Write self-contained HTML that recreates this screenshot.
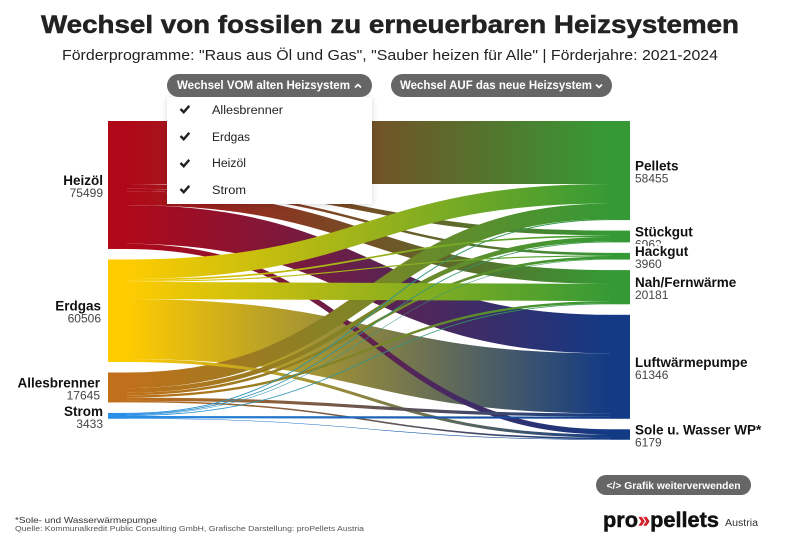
<!DOCTYPE html>
<html lang="de">
<head>
<meta charset="utf-8">
<title>Wechsel von fossilen zu erneuerbaren Heizsystemen</title>
<style>
html,body{margin:0;padding:0;background:#fff;width:800px;height:538px;overflow:hidden}
svg{display:block;font-family:"Liberation Sans",sans-serif}
</style>
</head>
<body>
<svg id="chart" xmlns="http://www.w3.org/2000/svg" width="800" height="538" viewBox="0 0 800 538">
  <defs id="defs"></defs>
  <text x="390" y="33" text-anchor="middle" font-size="25" font-weight="700" fill="#222" stroke="#222" stroke-width="0.5" textLength="698" lengthAdjust="spacingAndGlyphs">Wechsel von fossilen zu erneuerbaren Heizsystemen</text>
  <text x="390" y="60" text-anchor="middle" font-size="15" fill="#222" textLength="656" lengthAdjust="spacingAndGlyphs">Förderprogramme: "Raus aus Öl und Gas", "Sauber heizen für Alle" | Förderjahre: 2021-2024</text>
  <g id="links"></g>
  <g id="nodes"></g>
  <g id="labels"></g>

  <rect x="167" y="97" width="205" height="107" fill="#fff" style="filter:drop-shadow(0 1px 3px rgba(0,0,0,.16))"></rect>
  <g>
    <rect x="167" y="74" width="205" height="23" rx="11.5" fill="#666"></rect>
    <text x="177" y="89" font-size="12" font-weight="700" fill="#fff" textLength="173" lengthAdjust="spacingAndGlyphs">Wechsel VOM alten Heizsystem</text>
    <path d="M355 87.5l3-3 3 3" fill="none" stroke="#fff" stroke-width="1.6"></path>
  </g>
  <g>
    <rect x="391" y="74" width="221" height="23" rx="11.5" fill="#666"></rect>
    <text x="400" y="89" font-size="12" font-weight="700" fill="#fff" textLength="192" lengthAdjust="spacingAndGlyphs">Wechsel AUF das neue Heizsystem</text>
    <path d="M596 84.5l3 3 3-3" fill="none" stroke="#fff" stroke-width="1.6"></path>
  </g>
  <g>
    <path d="M180.5 109l3.2 3.2 5.6-6.4" fill="none" stroke="#222" stroke-width="2.4"></path>
    <text x="212" y="114" font-size="11.5" fill="#222" textLength="71" lengthAdjust="spacingAndGlyphs">Allesbrenner</text>
  </g>
  <g>
    <path d="M180.5 136l3.2 3.2 5.6-6.4" fill="none" stroke="#222" stroke-width="2.4"></path>
    <text x="212" y="141" font-size="11.5" fill="#222" textLength="38" lengthAdjust="spacingAndGlyphs">Erdgas</text>
  </g>
  <g>
    <path d="M180.5 163l3.2 3.2 5.6-6.4" fill="none" stroke="#222" stroke-width="2.4"></path>
    <text x="212" y="167" font-size="11.5" fill="#222" textLength="34" lengthAdjust="spacingAndGlyphs">Heizöl</text>
  </g>
  <g>
    <path d="M180.5 189l3.2 3.2 5.6-6.4" fill="none" stroke="#222" stroke-width="2.4"></path>
    <text x="212" y="194" font-size="11.5" fill="#222" textLength="34" lengthAdjust="spacingAndGlyphs">Strom</text>
  </g>

  <g>
    <rect x="596" y="475" width="155" height="20" rx="10" fill="#666"></rect>
    <text x="673.5" y="489" text-anchor="middle" font-size="10.5" font-weight="700" fill="#fff" textLength="134" lengthAdjust="spacingAndGlyphs">&lt;/&gt; Grafik weiterverwenden</text>
  </g>
  <text x="15" y="523" font-size="8.5" fill="#333" textLength="142" lengthAdjust="spacingAndGlyphs">*Sole- und Wasserwärmepumpe</text>
  <text x="15" y="531" font-size="7.5" fill="#555" textLength="349" lengthAdjust="spacingAndGlyphs">Quelle: Kommunalkredit Public Consulting GmbH, Grafische Darstellung: proPellets Austria</text>
  <text x="603" y="527" font-size="21" font-weight="700" fill="#111" stroke="#111" stroke-width="0.5" textLength="116" lengthAdjust="spacingAndGlyphs">pro<tspan fill="#d2202a" stroke="#d2202a">»</tspan>pellets</text>
  <text x="725" y="526" font-size="10" fill="#333" textLength="33" lengthAdjust="spacingAndGlyphs">Austria</text>
</svg>
<script>
const sourceNames = ["Heizöl", "Erdgas", "Allesbrenner", "Strom"];
const targetNames = ["Pellets", "Stückgut", "Hackgut", "Nah/Fernwärme", "Luftwärmepumpe", "Sole u. Wasser WP*"];
const sourceTotals = [75499, 60506, 17645, 3433];
const targetTotals = [58455, 6962, 3960, 20181, 61346, 6179];
const flowsHeizoel = [37200, 2800, 1450, 8200, 22749, 3100];
const flowsErdgas = [11500, 1000, 700, 10100, 35406, 1800];
const flowsAllesbrenner = [9200, 2700, 1500, 1400, 1895, 950];
const flowsStrom = [555, 462, 310, 481, 1296, 329];
const sourceColors = ["#b00818", "#ffcc00", "#c0701a", "#2a8fe8"];
const targetColors = ["#359a35", "#359a35", "#359a35", "#359a35", "#123a85", "#123a85"];
// paint order of the ribbons as source:target pairs, back to front
const paintOrder = ["0:0","0:3","0:1","0:2","0:4","1:4","0:5","2:0","1:5","2:1","2:2","2:3","2:4","2:5","1:0","1:3","1:1","1:2","3:0","3:1","3:2","3:3","3:4","3:5"];

const flows = [flowsHeizoel, flowsErdgas, flowsAllesbrenner, flowsStrom];
const NS = "http://www.w3.org/2000/svg";
const k = 0.001695, top0 = 121, gap = 10.5;
const srcX0 = 108, srcX1 = 127, tgtX0 = 610, tgtX1 = 630;
const scaleV = v => v * k;

function stack(totals) {
  let y = top0;
  return totals.map(t => { const p = {y0: y, y1: y + scaleV(t)}; y = p.y1 + gap; return p; });
}
const srcPos = stack(sourceTotals);
const tgtPos = stack(targetTotals);

// ribbon end coordinates
const srcOff = srcPos.map(p => p.y0);
const tgtOff = tgtPos.map(p => p.y0);
const ribbons = {};
flows.forEach((row, s) => row.forEach((v, t) => {
  const w = scaleV(v);
  ribbons[s + ":" + t] = {s, t, v, w, ya: srcOff[s] + w / 2};
  srcOff[s] += w;
}));
targetNames.forEach((_, t) => flows.forEach((row, s) => {
  const r = ribbons[s + ":" + t];
  r.yb = tgtOff[t] + r.w / 2;
  tgtOff[t] += r.w;
}));

const defs = document.getElementById("defs");
const linkGroup = document.getElementById("links");
const xm = (srcX1 + tgtX0) / 2;
paintOrder.forEach(key => {
  const r = ribbons[key];
  const id = "grad-" + r.s + "-" + r.t;
  const g = document.createElementNS(NS, "linearGradient");
  g.setAttribute("id", id);
  g.setAttribute("gradientUnits", "userSpaceOnUse");
  g.setAttribute("x1", srcX1); g.setAttribute("x2", tgtX0);
  g.setAttribute("y1", 0); g.setAttribute("y2", 0);
  [[0, sourceColors[r.s]], [1, targetColors[r.t]]].forEach(([o, c]) => {
    const st = document.createElementNS(NS, "stop");
    st.setAttribute("offset", o); st.setAttribute("stop-color", c);
    g.appendChild(st);
  });
  defs.appendChild(g);
  const p = document.createElementNS(NS, "path");
  p.setAttribute("d", `M${srcX1} ${r.ya}C${xm} ${r.ya} ${xm} ${r.yb} ${tgtX0} ${r.yb}`);
  p.setAttribute("fill", "none");
  p.setAttribute("stroke", `url(#${id})`);
  p.setAttribute("stroke-width", r.w);
  
  
  linkGroup.appendChild(p);
});

const nodeGroup = document.getElementById("nodes");
function addNode(x0, x1, pos, color) {
  const n = document.createElementNS(NS, "rect");
  n.setAttribute("x", x0); n.setAttribute("y", pos.y0);
  n.setAttribute("width", x1 - x0); n.setAttribute("height", pos.y1 - pos.y0);
  n.setAttribute("fill", color);
  
  
  nodeGroup.appendChild(n);
}
srcPos.forEach((p, i) => addNode(srcX0, srcX1, p, sourceColors[i]));
tgtPos.forEach((p, i) => addNode(tgtX0, tgtX1, p, targetColors[i]));

const labelGroup = document.getElementById("labels");
function addText(x, y, txt, anchor, size, weight, fill, halo) {
  const t = document.createElementNS(NS, "text");
  t.setAttribute("x", x); t.setAttribute("y", y);
  t.setAttribute("text-anchor", anchor);
  t.setAttribute("font-size", size);
  t.setAttribute("font-weight", weight);
  t.setAttribute("fill", fill);
  if (halo) {
    t.setAttribute("stroke", "#fff");
    t.setAttribute("stroke-width", "5");
    t.setAttribute("paint-order", "stroke");
  }
  t.textContent = txt;
  labelGroup.appendChild(t);
  return t;
}
function addLabel(x, pos, name, total, anchor) {
  const c = (pos.y0 + pos.y1) / 2;
  const l = addText(x, c, name, anchor, 13.5, 700, "#111", true);
  
  
  const v = addText(x, c + 12, String(total), anchor, 12, 400, "#444", false);
  
  
}
srcPos.forEach((p, i) => addLabel(i === 1 ? 101 : i === 2 ? 100 : 103, p, sourceNames[i], sourceTotals[i], "end"));
tgtPos.forEach((p, i) => addLabel(635, p, targetNames[i], targetTotals[i], "start"));
</script>
</body>
</html>
